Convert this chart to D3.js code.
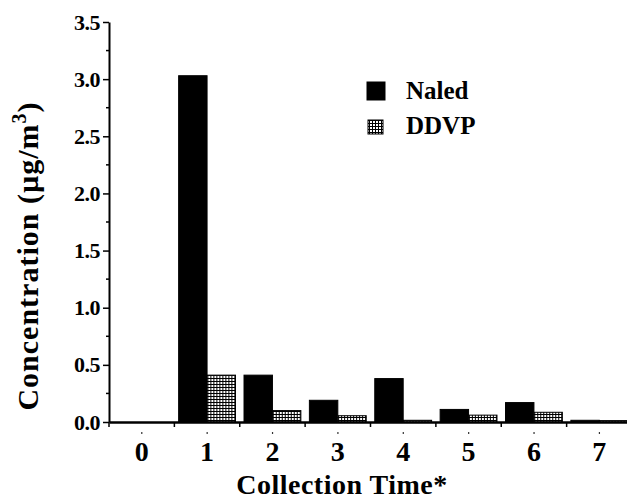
<!DOCTYPE html>
<html>
<head>
<meta charset="utf-8">
<script src="https://cdn.jsdelivr.net/npm/d3@7"></script>
<style>
    body { margin: 0; background: #fff; }
    svg text { font-family: 'Liberation Serif', 'Times New Roman', serif; font-weight: bold; fill: #000; }
</style>
</head>
<body>
<div id="chart-area"></div>
<script>
'use strict';

let categories = ['0', '1', '2', '3', '4', '5', '6', '7'];
let seriesNames = ['Naled', 'DDVP'];
let naled = [0, 3.03, 0.41, 0.19, 0.38, 0.11, 0.17, 0.015];
let ddvp = [0, 0.41, 0.10, 0.055, 0.015, 0.06, 0.085, 0.012];
let yTicks = [0, 0.5, 1.0, 1.5, 2.0, 2.5, 3.0, 3.5];
let yMinorTicks = [0.25, 0.75, 1.25, 1.75, 2.25, 2.75, 3.25];

let width = 627;
let height = 500;

let svg = d3.select('#chart-area').append('svg')
    .attr('width', width)
    .attr('height', height);

// dense grid fill used for DDVP
let defs = svg.append('defs');
let pat = defs.append('pattern')
    .attr('id', 'grid')
    .attr('width', 3)
    .attr('height', 3)
    .attr('patternUnits', 'userSpaceOnUse');
pat.append('rect').attr('width', 3).attr('height', 3).attr('fill', '#fff');
pat.append('rect').attr('width', 3).attr('height', 1).attr('fill', '#000');
pat.append('rect').attr('width', 1).attr('height', 3).attr('fill', '#000');

let x = d3.scaleBand()
    .domain(categories)
    .range([109, 632])
    .padding(0);

let xInner = d3.scaleBand()
    .domain(seriesNames)
    .range([0, x.bandwidth()])
    .paddingInner(0)
    .paddingOuter(0.15);

let y = d3.scaleLinear()
    .domain([0, 3.5])
    .range([422, 22]);

let fills = {Naled: '#000', DDVP: 'url(#grid)'};

let rows = categories.map((c, i) => ({cat: c, values: [
    {name: 'Naled', v: naled[i]},
    {name: 'DDVP', v: ddvp[i]},
]}));

let groups = svg.selectAll('g.cat')
    .data(rows)
    .enter()
    .append('g')
        .attr('class', 'cat')
        .attr('transform', d => 'translate(' + x(d.cat) + ',0)');

groups.selectAll('rect')
    .data(d => d.values.filter(v => v.v > 0))
    .enter()
    .append('rect')
        .attr('x', d => xInner(d.name))
        .attr('y', d => y(d.v))
        .attr('width', xInner.bandwidth())
        .attr('height', d => y(0) - y(d.v))
        .attr('fill', d => fills[d.name])
        .attr('stroke', '#000')
        .attr('stroke-width', 1);

// y axis
let yAxis = d3.axisLeft(y)
    .tickValues(yTicks)
    .tickFormat(d3.format('.1f'))
    .tickSize(6)
    .tickSizeOuter(0)
    .tickPadding(3);

let yg = svg.append('g')
    .attr('class', 'y_axis')
    .attr('transform', 'translate(109,0)')
    .call(yAxis);
yg.select('.domain').attr('stroke-width', 2);
yg.selectAll('.tick line').attr('stroke-width', 1.5);
yg.selectAll('.tick text')
    .attr('font-size', '22px')
    .attr('letter-spacing', '-0.5px')
    .attr('font-family', null);

yg.selectAll('.minor')
    .data(yMinorTicks)
    .enter()
    .append('line')
        .attr('class', 'minor')
        .attr('x1', -3)
        .attr('x2', 0)
        .attr('y1', d => y(d))
        .attr('y2', d => y(d))
        .attr('stroke', '#000')
        .attr('stroke-width', 1.5);

// x axis
let xAxis = d3.axisBottom(x)
    .tickSize(0)
    .tickSizeOuter(0)
    .tickPadding(19);

let xg = svg.append('g')
    .attr('class', 'x_axis')
    .attr('transform', 'translate(0,' + y(0) + ')')
    .call(xAxis);
xg.select('.domain').attr('stroke-width', 2.5);
xg.selectAll('.tick text')
    .attr('font-size', '28px')
    .attr('font-family', null);

xg.selectAll('.edge')
    .data(categories)
    .enter()
    .append('line')
        .attr('class', 'edge')
        .attr('x1', d => x(d))
        .attr('x2', d => x(d))
        .attr('y1', 0)
        .attr('y2', 5)
        .attr('stroke', '#000')
        .attr('stroke-width', 1.5);

xg.selectAll('.dot')
    .data(categories)
    .enter()
    .append('rect')
        .attr('class', 'dot')
        .attr('x', d => x(d) + x.bandwidth() / 2 - 0.5)
        .attr('y', 10)
        .attr('width', 1.2)
        .attr('height', 2)
        .attr('fill', '#333');

// axis labels
svg.append('text')
    .attr('class', 'x_label')
    .attr('x', 342)
    .attr('y', 494)
    .attr('font-size', '28px')
    .attr('letter-spacing', '0.5px')
    .attr('text-anchor', 'middle')
    .text('Collection Time*');

let yl = svg.append('text')
    .attr('class', 'y_label')
    .attr('transform', 'translate(38,256) rotate(-90)')
    .attr('font-size', '30px')
    .attr('letter-spacing', '1px')
    .attr('text-anchor', 'middle');
yl.append('tspan').text('Concentration (\u00b5g/m');
yl.append('tspan').attr('font-size', '20px').attr('dy', -12).text('3');
yl.append('tspan').attr('dy', 12).text(')');

// legend
let legendRows = [
    {name: 'Naled', sx: 367, sy: 82, sw: 18, sh: 18, ty: 99},
    {name: 'DDVP', sx: 368, sy: 120, sw: 15, sh: 14, ty: 134},
];

let legend = svg.append('g').attr('class', 'legend');
legend.selectAll('rect')
    .data(legendRows)
    .enter()
    .append('rect')
        .attr('x', d => d.sx)
        .attr('y', d => d.sy)
        .attr('width', d => d.sw)
        .attr('height', d => d.sh)
        .attr('fill', d => fills[d.name])
        .attr('stroke', '#000')
        .attr('stroke-width', 1);
legend.selectAll('text')
    .data(legendRows)
    .enter()
    .append('text')
        .attr('x', 406)
        .attr('y', d => d.ty)
        .attr('font-size', '25px')
        .text(d => d.name);
</script>
</body>
</html>
